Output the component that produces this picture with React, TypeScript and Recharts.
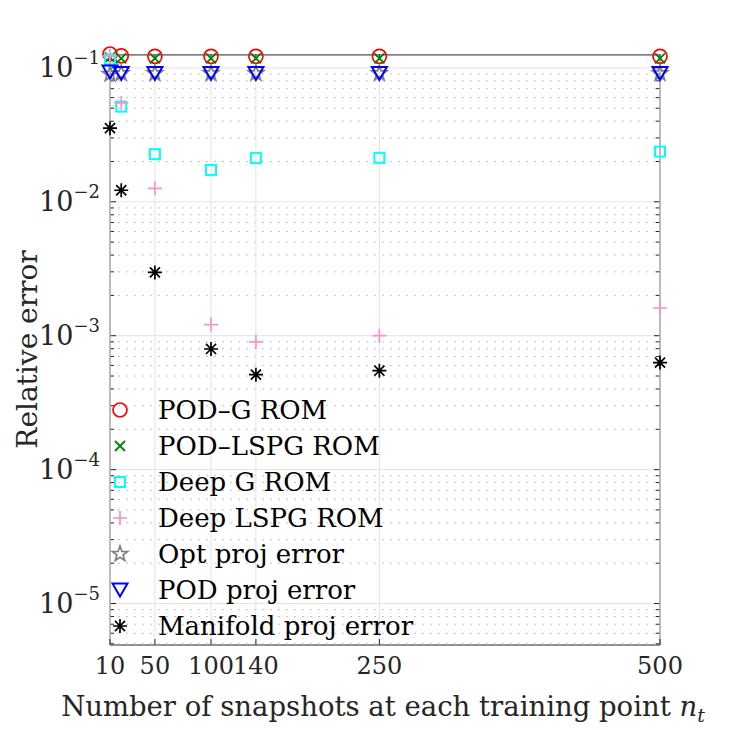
import React from "react";
import {
  ScatterChart,
  Scatter,
  XAxis,
  YAxis,
  ReferenceLine,
  ReferenceArea,
  Legend,
  Label,
} from "recharts";

// number of snapshots at each training point
const nt = [10, 20, 50, 100, 140, 250, 500];

// relative errors
const podG = [0.127, 0.123, 0.122, 0.122, 0.122, 0.122, 0.122];
const podLspg = [0.12, 0.118, 0.118, 0.118, 0.118, 0.118, 0.118];
const deepG = [0.116, 0.0514, 0.0227, 0.0173, 0.0212, 0.0213, 0.0237];
const deepLspg = [0.123, 0.0548, 0.0126, 0.00121, 0.0009, 0.001, 0.00161];
const optProj = [0.09, 0.091, 0.091, 0.091, 0.091, 0.091, 0.091];
const podProj = [0.093, 0.091, 0.091, 0.091, 0.091, 0.091, 0.091];
const manifoldProj = [0.0355, 0.0122, 0.00297, 0.000796, 0.000512, 0.000548, 0.00063];

const xTicks = [10, 50, 100, 140, 250, 500];
const yTicks = [1e-5, 1e-4, 1e-3, 1e-2, 1e-1];
const yMin = 4.9e-6;
const yMax = 0.125;

const minorTicks: number[] = [];
[1e-6, 1e-5, 1e-4, 1e-3, 1e-2, 1e-1].forEach((d) => {
  for (let m = 2; m <= 9; m++) {
    const v = d * m;
    if (v > yMin && v < yMax) minorTicks.push(v);
  }
});

const serif = "DejaVu Serif";
const axisColor = "#262626";
const gridColor = "#e3e3e3";
const minorColor = "#c4c4c4";

type Kind = "circle" | "cross" | "square" | "plus" | "star" | "triangle" | "asterisk";

const series: { name: string; values: number[]; color: string; kind: Kind }[] = [
  { name: "POD–G ROM", values: podG, color: "#ff0000", kind: "circle" },
  { name: "POD–LSPG ROM", values: podLspg, color: "#008000", kind: "cross" },
  { name: "Deep G ROM", values: deepG, color: "#00ffff", kind: "square" },
  { name: "Deep LSPG ROM", values: deepLspg, color: "#ff8fc8", kind: "plus" },
  { name: "Opt proj error", values: optProj, color: "#808080", kind: "star" },
  { name: "POD proj error", values: podProj, color: "#0000ff", kind: "triangle" },
  { name: "Manifold proj error", values: manifoldProj, color: "#000000", kind: "asterisk" },
];

function Marker({ kind, color, cx, cy }: { kind: Kind; color: string; cx: number; cy: number }) {
  switch (kind) {
    case "circle":
      return <circle cx={cx} cy={cy} r={7} fill="none" stroke={color} strokeWidth={1.7} />;
    case "cross": {
      const s = 5;
      return (
        <path
          d={`M${cx - s},${cy - s}L${cx + s},${cy + s}M${cx - s},${cy + s}L${cx + s},${cy - s}`}
          stroke={color}
          strokeWidth={1.8}
          fill="none"
        />
      );
    }
    case "square":
      return <rect x={cx - 5} y={cy - 5} width={10} height={10} fill="none" stroke={color} strokeWidth={2} />;
    case "plus": {
      const s = 7;
      return (
        <path d={`M${cx - s},${cy}L${cx + s},${cy}M${cx},${cy - s}L${cx},${cy + s}`} stroke={color} strokeWidth={1.7} fill="none" />
      );
    }
    case "star": {
      const pts: string[] = [];
      for (let i = 0; i < 10; i++) {
        const r = i % 2 === 0 ? 8 : 3.2;
        const a = -Math.PI / 2 + (i * Math.PI) / 5;
        pts.push(`${cx + r * Math.cos(a)},${cy + r * Math.sin(a)}`);
      }
      return <polygon points={pts.join(" ")} fill="none" stroke={color} strokeWidth={1.7} />;
    }
    case "triangle":
      return (
        <polygon
          points={`${cx - 7.5},${cy - 6.5} ${cx + 7.5},${cy - 6.5} ${cx},${cy + 6.5}`}
          fill="none"
          stroke={color}
          strokeWidth={2}
          strokeLinejoin="miter"
        />
      );
    case "asterisk": {
      const s = 7;
      const d = s * 0.72;
      return (
        <path
          d={`M${cx - s},${cy}L${cx + s},${cy}M${cx},${cy - s}L${cx},${cy + s}M${cx - d},${cy - d}L${cx + d},${cy + d}M${cx - d},${cy + d}L${cx + d},${cy - d}`}
          stroke={color}
          strokeWidth={1.7}
          fill="none"
        />
      );
    }
  }
  return null;
}

const YTick = (props: any) => {
  const { x, y, payload } = props;
  const exp = Math.round(Math.log10(payload.value));
  return (
    <text x={x - 10} y={y + 9} textAnchor="end" fill={axisColor} fontSize={27} fontFamily={serif}>
      10
      <tspan dy={-13} fontSize={18}>{`−${-exp}`}</tspan>
    </text>
  );
};

const XTick = (props: any) => {
  const { x, y, payload } = props;
  return (
    <text x={x} y={y + 29} textAnchor="middle" fill={axisColor} fontSize={24} fontFamily={serif}>
      {payload.value}
    </text>
  );
};

const vLine = (props: any) => {
  const { x1, y1, y2 } = props;
  const top = Math.min(y1, y2);
  const bottom = Math.max(y1, y2);
  return (
    <g>
      <line x1={x1} x2={x1} y1={top} y2={bottom} stroke={gridColor} strokeWidth={1} />
      <line x1={x1} x2={x1} y1={bottom} y2={bottom - 6} stroke={axisColor} strokeWidth={1} />
      <line x1={x1} x2={x1} y1={top} y2={top + 6} stroke={axisColor} strokeWidth={1} />
    </g>
  );
};

const hLine = (minor: boolean) => (props: any) => {
  const { x1, x2, y1 } = props;
  const left = Math.min(x1, x2);
  const right = Math.max(x1, x2);
  const t = minor ? 4 : 6;
  return (
    <g>
      <line
        x1={left}
        x2={right}
        y1={y1}
        y2={y1}
        stroke={minor ? minorColor : gridColor}
        strokeWidth={1}
        strokeDasharray={minor ? "2 6" : undefined}
      />
      <line x1={left} x2={left + t} y1={y1} y2={y1} stroke={axisColor} strokeWidth={1} />
      <line x1={right} x2={right - t} y1={y1} y2={y1} stroke={axisColor} strokeWidth={1} />
    </g>
  );
};

const LegendBox = () => (
  <div style={{ fontFamily: serif, fontSize: 26, color: "#000" }}>
    {series.map((s) => (
      <div key={s.name} style={{ height: 36, display: "flex", alignItems: "center", whiteSpace: "nowrap" }}>
        <svg width={20} height={20} style={{ flex: "none" }}>
          <Marker kind={s.kind} color={s.color} cx={10} cy={10} />
        </svg>
        <span style={{ marginLeft: 28 }}>{s.name}</span>
      </div>
    ))}
  </div>
);

export default function App() {
  return (
    <div style={{ position: "absolute", left: 0, top: 0, width: 730, height: 730, background: "#fff" }}>
      <ScatterChart width={730} height={730} margin={{ top: 54, right: 70, bottom: 0, left: 0 }}>
        <XAxis
          type="number"
          dataKey="x"
          domain={[10, 500]}
          ticks={xTicks}
          interval={0}
          height={85}
          axisLine={false}
          tickLine={false}
          tickSize={0}
          tickMargin={0}
          tick={<XTick />}
        >
          <Label
            content={(p: any) => {
              const vb = p.viewBox;
              return (
                <text
                  x={vb.x + vb.width / 2 - 2}
                  y={vb.y + 71}
                  textAnchor="middle"
                  fill={axisColor}
                  fontSize={27.5}
                  fontFamily={serif}
                >
                  Number of snapshots at each training point{" "}
                  <tspan fontStyle="italic">n</tspan>
                  <tspan dy={6} fontSize={19} fontStyle="italic">t</tspan>
                </text>
              );
            }}
          />
        </XAxis>
        <YAxis
          type="number"
          dataKey="y"
          scale="log"
          domain={[yMin, yMax]}
          ticks={yTicks}
          interval={0}
          width={110}
          axisLine={false}
          tickLine={false}
          tickSize={0}
          tickMargin={0}
          tick={<YTick />}
        >
          <Label
            content={(p: any) => {
              const vb = p.viewBox;
              const cx = 27;
              const cy = vb.y + vb.height / 2;
              return (
                <text
                  x={cx}
                  y={cy}
                  transform={`rotate(-90 ${cx} ${cy})`}
                  textAnchor="middle"
                  dominantBaseline="central"
                  fill={axisColor}
                  fontSize={28}
                  fontFamily={serif}
                >
                  Relative error
                </text>
              );
            }}
          />
        </YAxis>
        {minorTicks.map((v) => (
          <ReferenceLine key={`m${v}`} y={v} shape={hLine(true)} />
        ))}
        {yTicks.map((v) => (
          <ReferenceLine key={`y${v}`} y={v} shape={hLine(false)} />
        ))}
        {xTicks.map((v) => (
          <ReferenceLine key={`x${v}`} x={v} shape={vLine} />
        ))}
        <ReferenceArea x1={10} x2={500} y1={yMin} y2={yMax} fill="none" stroke={axisColor} strokeWidth={1} />
        <Legend
          layout="vertical"
          align="center"
          verticalAlign="middle"
          wrapperStyle={{ left: 110, top: 392, width: 330 }}
          content={<LegendBox />}
        />
        {series.map((s) => (
          <Scatter
            key={s.name}
            name={s.name}
            data={nt.map((x, i) => ({ x, y: s.values[i] }))}
            isAnimationActive={false}
            shape={(p: any) => <Marker kind={s.kind} color={s.color} cx={p.cx} cy={p.cy} />}
          />
        ))}
      </ScatterChart>
    </div>
  );
}
